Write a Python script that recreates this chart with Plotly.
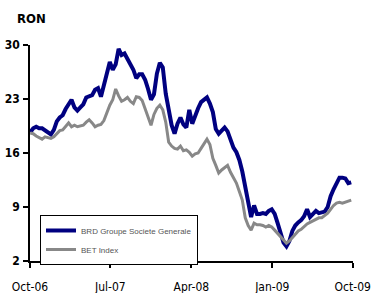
import pandas as pd
import plotly.graph_objects as go

start_date = "2006-10-02"
step = "10D"

brd = [18.7, 19.2, 19.4, 19.2, 19.2, 18.9, 18.7, 18.4, 19.0, 20.1,
       20.6, 20.9, 21.7, 22.3, 22.9, 21.9, 21.5, 21.9, 22.3, 23.2,
       23.4, 23.5, 24.2, 24.4, 23.3, 24.8, 26.8, 27.8, 26.8, 27.5,
       29.5, 28.7, 28.9, 28.2, 27.6, 26.8, 25.7, 26.2, 26.2, 25.5,
       24.3, 22.9, 23.6, 26.3, 27.7, 27.1, 23.7, 21.4, 19.6, 18.5,
       19.8, 20.6, 19.7, 19.3, 21.6, 19.8, 20.9, 21.8, 22.6, 22.9,
       23.2, 22.4, 21.3, 19.1, 18.5, 18.9, 19.3, 18.8, 17.8, 16.7,
       16.1, 15.1, 13.6, 11.6, 9.2, 7.7, 9.2, 8.1, 8.1, 8.2,
       8.1, 8.5, 8.7, 8.1, 6.9, 5.5, 4.4, 3.9, 4.6, 5.9,
       6.6, 7.0, 7.3, 7.8, 8.7, 7.7, 8.1, 8.5, 8.2, 8.3,
       8.4, 9.0, 10.4, 11.3, 12.0, 12.8, 12.8, 12.7, 12.1, 12.2]

bet = [18.6, 18.5, 18.2, 18.0, 17.8, 18.1, 18.0, 17.9, 18.1, 18.5,
       18.9, 19.0, 19.5, 19.9, 19.4, 19.6, 19.4, 19.5, 19.6, 20.0,
       20.3, 19.9, 19.4, 19.6, 19.7, 20.2, 21.3, 22.2, 22.9, 24.3,
       23.4, 22.7, 22.9, 23.2, 22.7, 22.4, 23.3, 23.2, 22.8, 21.7,
       20.5, 19.6, 21.0, 21.8, 22.2, 21.6, 20.0, 17.4, 16.9, 16.6,
       16.5, 16.9, 16.3, 16.4, 16.1, 15.6, 15.9, 16.0, 16.6, 17.2,
       17.8, 17.1, 15.3, 14.4, 13.4, 13.8, 14.1, 14.4, 13.5, 12.7,
       12.1, 11.0, 9.9, 7.6, 6.6, 6.0, 6.9, 6.7, 6.7, 6.6,
       6.4, 6.6, 6.4, 6.0, 5.6, 5.2, 4.7, 4.3, 4.6, 5.0,
       5.4, 5.9, 6.1, 6.5, 6.8, 7.0, 7.2, 7.5, 7.6, 7.6,
       7.9, 8.2, 8.7, 9.2, 9.5, 9.6, 9.5, 9.6, 9.8, 9.9]

y_ticks = [2, 9, 16, 23, 30]
series_names = ["BRD Groupe Societe Generale", "BET Index"]
unit_label = "RON"

dates = pd.date_range(start_date, periods=len(brd), freq=step)

fnt = "Liberation Sans Narrow, DejaVu Sans Condensed, Arial Narrow, Arial, sans-serif"

fig = go.Figure()
fig.add_trace(go.Scatter(x=dates, y=brd, mode="lines", name=series_names[0],
                         line=dict(color="#000080", width=4)))
fig.add_trace(go.Scatter(x=dates, y=bet, mode="lines", name=series_names[1],
                         line=dict(color="#888888", width=3)))

fig.update_layout(
    width=371, height=293,
    margin=dict(l=30, r=18, t=45, b=32),
    paper_bgcolor="white", plot_bgcolor="white",
    showlegend=True,
    legend=dict(x=0.031, y=0.213, xanchor="left", yanchor="top",
                bgcolor="white", bordercolor="black", borderwidth=1,
                font=dict(family="Liberation Sans, Arial, sans-serif", size=8, color="#555555"),
                itemwidth=30, tracegroupgap=0),
    annotations=[dict(text="<b>" + unit_label + "</b>", xref="paper", yref="paper",
                      x=0.006, y=1.125, xanchor="center", yanchor="middle",
                      showarrow=False, font=dict(family=fnt, size=13, color="black"))],
)
fig.update_xaxes(type="date", range=["2006-10-01", "2009-10-02"],
                 tick0="2006-10-01", dtick="M9", tickformat="%b-%y",
                 automargin=False,
                 showgrid=False, zeroline=False, showline=True, linecolor="black", linewidth=2,
                 ticks="outside", ticklen=5, tickwidth=2, tickcolor="black",
                 ticklabelstandoff=9,
                 tickfont=dict(family=fnt, size=12, color="black"))
fig.update_yaxes(range=[2, 30], tickvals=y_ticks,
                 ticktext=["<b>%d</b>" % v for v in y_ticks],
                 automargin=False,
                 showgrid=False, zeroline=False, showline=True, linecolor="black", linewidth=1.5,
                 ticks="outside", ticklen=5, tickwidth=1.5, tickcolor="black",
                 ticklabelstandoff=1,
                 tickfont=dict(family=fnt, size=12, color="black"))

fig.write_html("out.html", config={"displayModeBar": False},
               post_script="document.body.style.margin='0';document.body.style.overflow='hidden';")
